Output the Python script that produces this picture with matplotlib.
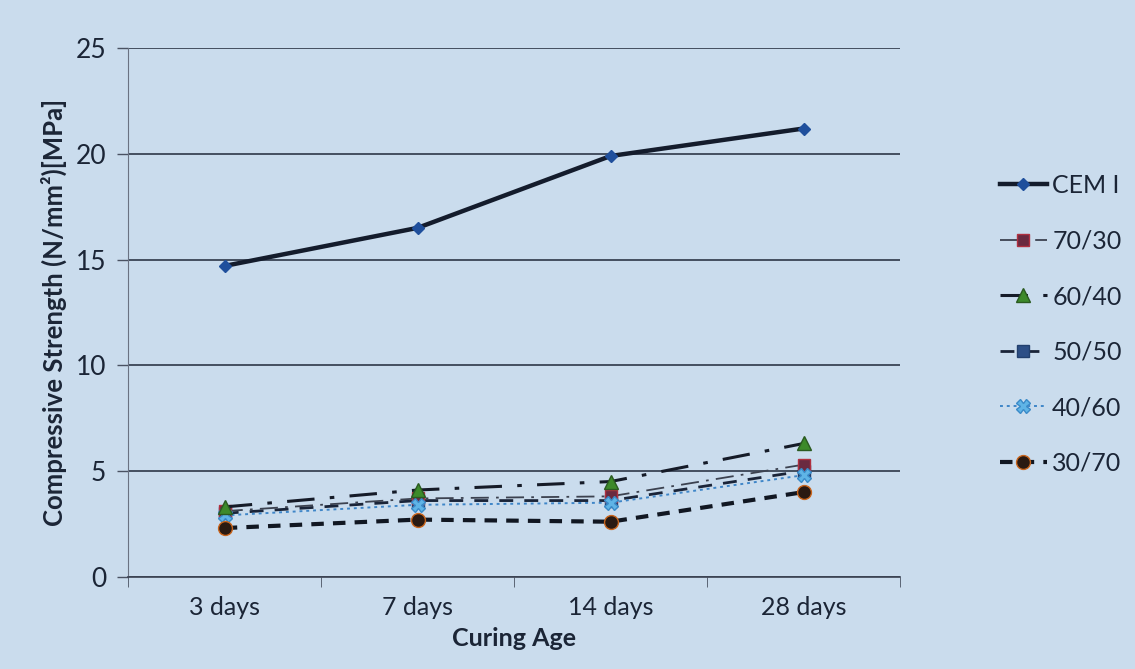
import numpy as np
import matplotlib
matplotlib.use("Agg")
import matplotlib.pyplot as plt

# compressive strength of the blended mixes against curing age
ages = ["3 days", "7 days", "14 days", "28 days"]
cem_i = [14.7, 16.5, 19.9, 21.2]
mix_70_30 = [3.1, 3.7, 3.8, 5.3]
mix_60_40 = [3.3, 4.1, 4.5, 6.3]
mix_50_50 = [3.0, 3.6, 3.6, 5.0]
mix_40_60 = [2.9, 3.4, 3.5, 4.8]
mix_30_70 = [2.3, 2.7, 2.6, 4.0]

BG = "#cadced"
INK = "#1b2536"

plt.rcParams["font.family"] = ["Lato", "DejaVu Sans"]

fig = plt.figure(figsize=(11.35, 6.69), dpi=100, facecolor=BG)
ax = fig.add_axes([0.113, 0.138, 0.68, 0.79])
ax.set_facecolor(BG)

x = np.arange(len(ages))

ax.plot(x, cem_i, color="#141c2c", lw=3.2, marker="D", ms=6,
        mfc="#1f4f9c", mec="#1f4f9c", label="CEM I", zorder=5)
ax.plot(x, mix_70_30, color="#3c4250", lw=1.3, ls=(0, (10, 4, 1.5, 4)),
        marker="s", ms=9, mfc="#6a2a40", mec="#b03040", label="70/30", zorder=4)
ax.plot(x, mix_60_40, color="#151b28", lw=2.2, ls=(0, (9, 5, 1.5, 5)),
        marker="^", ms=10, mfc="#3d8a2a", mec="#2a5a20", label="60/40", zorder=6)
ax.plot(x, mix_50_50, color="#1a2438", lw=2.0, ls=(0, (5, 4)),
        marker="s", ms=9, mfc="#2d4f86", mec="#22406e", label="50/50", zorder=3)
ax.plot(x, mix_40_60, color="#3f86c8", lw=1.4, ls=(0, (1.5, 2)),
        marker="X", ms=10, mfc="#5fb4e6", mec="#3a8ac8", label="40/60", zorder=5)
ax.plot(x, mix_30_70, color="#111722", lw=3.0, ls=(0, (3, 2.2)),
        marker="o", ms=10, mfc="#2a1a12", mec="#c8641c", label="30/70", zorder=6)

ax.set_xlim(-0.5, len(ages) - 0.5)
ax.set_ylim(0, 25)
ax.set_yticks(np.arange(0, 26, 5))
ax.set_xticks(x)
ax.set_xticklabels(ages)
ax.set_xticks(np.arange(-0.5, len(ages)), minor=True)
ax.tick_params(axis="x", which="major", length=0, pad=14, labelsize=18, colors=INK)
ax.tick_params(axis="x", which="minor", length=7, color="#4a5262", direction="out")
ax.tick_params(axis="y", length=8, width=1, color="#4a5262", labelsize=19,
               colors=INK, pad=8)

ax.grid(axis="y", color="#20283a", lw=1.1)
for side in ("top", "right"):
    ax.spines[side].set_visible(False)
ax.spines["left"].set_color("#6a7282")
ax.spines["bottom"].set_color("#3a4252")
ax.spines["bottom"].set_linewidth(1.2)

ax.set_xlabel("Curing Age", fontsize=18, fontweight="bold", color=INK, labelpad=6)
ax.set_ylabel("Compressive Strength (N/mm²)[MPa]", fontsize=18.5,
              fontweight="bold", color=INK, labelpad=6)

fig.legend(loc="center left", bbox_to_anchor=(0.872, 0.515), frameon=False,
           fontsize=18, labelcolor=INK, handlelength=1.9, handletextpad=0.2,
           labelspacing=1.3, borderaxespad=0)

fig.savefig("out.png", dpi=100, facecolor=BG)
